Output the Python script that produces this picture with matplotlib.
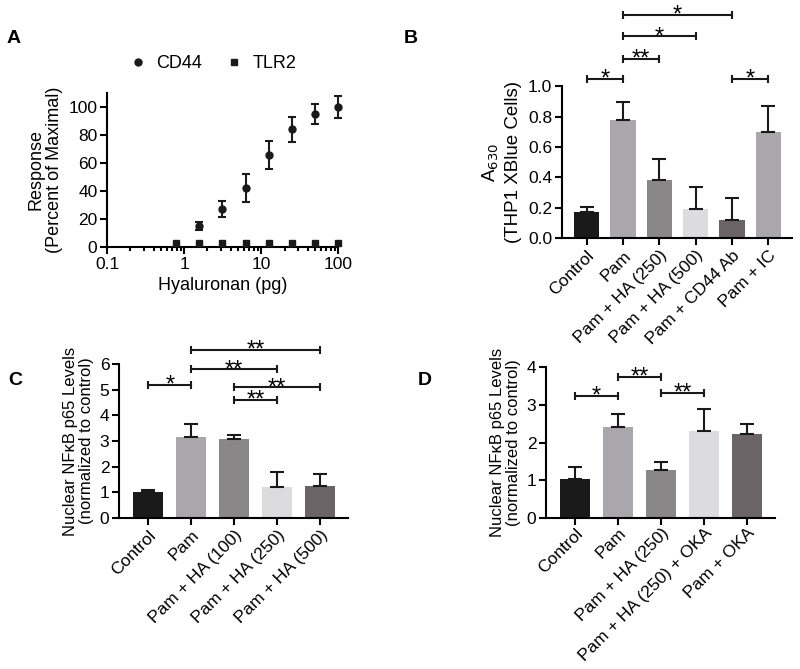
import numpy as np
import matplotlib
matplotlib.use("Agg")
import matplotlib.pyplot as plt

plt.rcParams['font.family'] = ['Liberation Sans', 'DejaVu Sans']
plt.rcParams['font.size'] = 12

#
# data
#
# panel A
ha_dose_cd44 = [1.5625, 3.125, 6.25, 12.5, 25, 50, 100]
cd44_resp = [15, 27, 42, 66, 84, 95, 100]
cd44_err = [3, 6, 10, 10, 9, 7, 8]
ha_dose_tlr2 = [0.78, 1.5625, 3.125, 6.25, 12.5, 25, 50, 100]
tlr2_resp = [3, 3, 3, 3, 3, 3, 3, 3]

# panel B
b_labels = ['Control', 'Pam', 'Pam + HA (250)', 'Pam + HA (500)', 'Pam + CD44 Ab', 'Pam + IC']
b_values = [0.175, 0.775, 0.38, 0.19, 0.12, 0.70]
b_err = [0.03, 0.12, 0.14, 0.145, 0.145, 0.17]
b_sig = [(0, 1, 1.05, '*'), (1, 2, 1.18, '**'), (1, 3, 1.33, '*'), (1, 4, 1.47, '*'), (4, 5, 1.05, '*')]

# panel C
c_labels = ['Control', 'Pam', 'Pam + HA (100)', 'Pam + HA (250)', 'Pam + HA (500)']
c_values = [1.02, 3.17, 3.08, 1.2, 1.25]
c_err = [0.08, 0.5, 0.17, 0.58, 0.45]
c_sig = [(0, 1, 5.2, '*'), (1, 3, 5.8, '**'), (1, 4, 6.55, '**'), (2, 3, 4.6, '**'), (2, 4, 5.1, '**')]

# panel D
d_labels = ['Control', 'Pam', 'Pam + HA (250)', 'Pam + HA (250) + OKA', 'Pam + OKA']
d_values = [1.02, 2.4, 1.28, 2.32, 2.22]
d_err = [0.32, 0.35, 0.21, 0.58, 0.27]
d_sig = [(0, 1, 3.24, '*'), (1, 2, 3.74, '**'), (2, 3, 3.32, '**')]

b_colors = ['#1b1a1b', '#a9a6ac', '#8a8789', '#dcdbdd', '#6a6466', '#a9a6ac']
c_colors = ['#1b1a1b', '#a9a6ac', '#8a8789', '#dcdbdd', '#6a6466']

lw = 1.5
ink = '#1b1a1b'


def style(ax):
    for s in ['top', 'right']:
        ax.spines[s].set_visible(False)
    for s in ['left', 'bottom']:
        ax.spines[s].set_linewidth(lw)
    ax.tick_params(width=lw, length=5, labelsize=12.5, pad=2)


def bars(ax, labels, values, err, colors, sig, ylim, yticks, ylabel,
         labsize=13, lsp=1.1, catsize=13):
    x = np.arange(len(values))
    ax.bar(x, values, width=0.7, color=colors)
    ax.errorbar(x, values, yerr=[np.zeros(len(err)), err], fmt='none',
                ecolor=ink, elinewidth=lw, capsize=5, capthick=lw)
    ax.set_xlim(-0.68, len(values) - 0.35)
    ax.set_ylim(*ylim)
    ax.set_yticks(yticks)
    ax.set_xticks(x)
    ax.set_xticklabels(labels, rotation=45, ha='right', rotation_mode='anchor', fontsize=catsize)
    ax.set_ylabel(ylabel, fontsize=labsize, linespacing=lsp)
    style(ax)
    for i, j, y, star in sig:
        ax.plot([i, j], [y, y], color=ink, lw=lw, marker='|', ms=6, mew=lw, clip_on=False)
        ax.annotate(star, xy=((i + j) / 2, y), xytext=(0, -5), textcoords='offset points',
                    ha='center', va='baseline', fontsize=17, annotation_clip=False)


fig = plt.figure(figsize=(8, 6.69), dpi=100)

#
# panel A
#
axA = fig.add_axes([0.134, 0.631, 0.289, 0.230])
axA.errorbar(ha_dose_cd44, cd44_resp, yerr=cd44_err, fmt='none', ecolor=ink,
             elinewidth=lw, capsize=3, capthick=lw, clip_on=False)
axA.plot(ha_dose_cd44, cd44_resp, 'o', color=ink, ms=5, label='CD44', clip_on=False)
axA.plot(ha_dose_tlr2, tlr2_resp, 's', color=ink, ms=4.5, label='TLR2', clip_on=False, zorder=5)
axA.set_xscale('log')
axA.set_xlim(0.1, 100)
axA.set_ylim(0, 110)
axA.set_yticks([0, 20, 40, 60, 80, 100])
axA.set_xticks([0.1, 1, 10, 100])
axA.set_xticklabels(['0.1', '1', '10', '100'])
axA.set_xlabel('Hyaluronan (pg)', fontsize=13)
axA.set_ylabel('Response\n(Percent of Maximal)', fontsize=13, linespacing=1.1)
style(axA)
axA.tick_params(which='minor', width=lw, length=3)
axA.legend(loc='lower center', bbox_to_anchor=(0.455, 1.03), ncol=2, frameon=False,
           fontsize=13, handletextpad=0.5, columnspacing=1.3, handlelength=1.0)

#
# panel B
#
axB = fig.add_axes([0.7025, 0.644, 0.2875, 0.227])
bars(axB, b_labels, b_values, b_err, b_colors, b_sig, (0, 1.0),
     [0, 0.2, 0.4, 0.6, 0.8, 1.0], 'A$_{630}$\n(THP1 XBlue Cells)', labsize=13.5, lsp=1.35)
axB.set_yticklabels(['0.0', '0.2', '0.4', '0.6', '0.8', '1.0'])

#
# panel C
#
axC = fig.add_axes([0.149, 0.2257, 0.286, 0.230])
bars(axC, c_labels, c_values, c_err, c_colors, c_sig, (0, 6),
     range(7), 'Nuclear NF\u03baB p65 Levels\n(normalized to control)', labsize=12)

#
# panel D
#
axD = fig.add_axes([0.6825, 0.226, 0.286, 0.225])
bars(axD, d_labels, d_values, d_err, c_colors, d_sig, (0, 4),
     range(5), 'Nuclear NF\u03baB p65 Levels\n(normalized to control)', labsize=12, catsize=11.5)
axD.tick_params(axis='x', pad=0.5)

# panel letters
for lab, x, y in [('A', 0.008, 0.935), ('B', 0.505, 0.935), ('C', 0.01, 0.425), ('D', 0.522, 0.425)]:
    fig.text(x, y, lab, fontsize=14, fontweight='bold')

fig.savefig('out.png', dpi=100)
